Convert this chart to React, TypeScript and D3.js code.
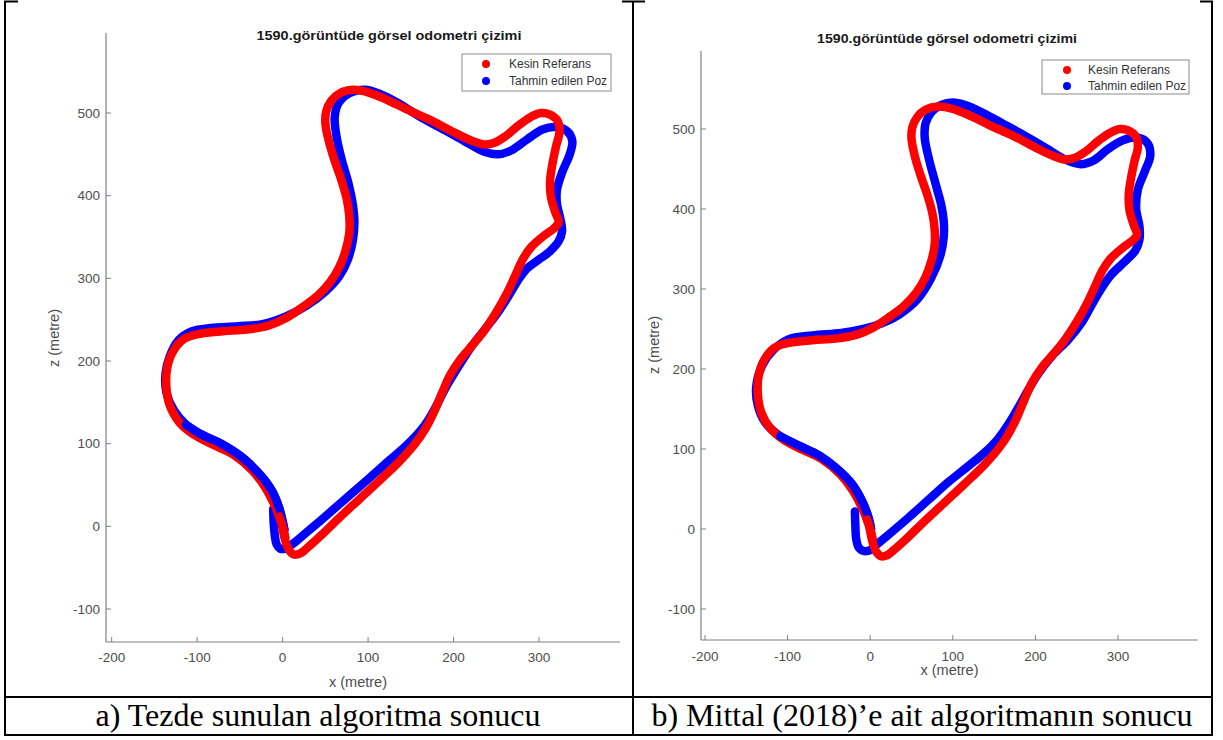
import React, { useEffect, useRef } from "react";
import * as d3 from "d3";

type Pt = [number, number];

// Ground truth trajectory (x, z in metres) – shared by both panels
const kesinReferans: Pt[] = [
  [-2, 9], [0, -3], [3, -17], [7, -28], [13, -34], [20, -33], [30, -25], [45, -11], [65, 9], [90, 33],
  [115, 57], [138, 80], [155, 100], [167, 118], [177, 138], [186, 160], [196, 183], [208, 202], [222, 219],
  [236, 237], [250, 259], [262, 281], [272, 303], [281, 323], [291, 338], [305, 351], [318, 361], [323, 368],
  [319, 380], [314, 398], [313, 418], [316, 440], [320, 460], [324, 477], [322, 490], [313, 498], [302, 500],
  [290, 495], [276, 485], [261, 472], [248, 464], [236, 462], [220, 467], [198, 478], [172, 492], [146, 504],
  [122, 516], [100, 525], [82, 528], [67, 524], [57, 515], [51, 502], [50, 488], [54, 466], [61, 442],
  [69, 418], [75, 396], [78, 375], [78, 355], [74, 335], [67, 315], [56, 296], [41, 279], [23, 265], [4, 252],
  [-16, 243], [-42, 238], [-70, 236], [-97, 233], [-115, 227], [-128, 212], [-135, 192], [-136, 168],
  [-132, 146], [-121, 126], [-104, 111], [-82, 99], [-58, 87], [-36, 68], [-21, 48], [-11, 29], [-4, 12],
  [0, 0], [3, -14],
];

// Estimated pose – panel a (thesis algorithm)
const tahminA: Pt[] = [
  [-11, 21], [-10.5, 5], [-9, -12], [-7, -22], [-3, -27], [3, -27], [12, -21], [25, -10], [40, 3], [70, 30],
  [100, 57], [125, 80], [145, 98], [160, 114], [170, 128], [180, 146], [191, 168], [205, 192], [222, 219],
  [238, 240], [252, 259], [264, 278], [275, 297], [286, 312], [299, 322], [313, 333], [323, 345], [327, 357],
  [325, 372], [321, 390], [321, 407], [327, 428], [336, 450], [339, 466], [333, 478], [319, 483], [304, 480],
  [286, 468], [268, 455], [252, 450], [236, 453], [216, 464], [190, 479], [160, 496], [135, 512], [114, 523],
  [96, 528], [78, 524], [66, 513], [61, 496], [63, 472], [69, 444], [77, 415], [82, 390], [84, 368], [82, 345],
  [76, 322], [66, 302], [50, 284], [28, 267], [4, 254], [-22, 245], [-52, 242], [-84, 240], [-106, 236],
  [-122, 225], [-132, 206], [-137, 185], [-136, 162], [-127, 140], [-113, 123], [-95, 111], [-72, 100],
  [-48, 84], [-26, 62], [-12, 42], [-4, 22], [0, 6], [2, -4],
];

// Estimated pose – panel b (Mittal 2018)
const tahminB: Pt[] = [
  [-18.5, 22], [-18, 5], [-17, -12], [-14, -23], [-8, -27.5], [0, -26.5], [6, -21], [20, -9], [45, 13],
  [70, 36], [95, 59], [118, 78], [138, 95], [155, 113], [168, 132], [180, 153], [192, 175], [204, 195],
  [220, 216], [240, 237], [256, 258], [266, 276], [277, 296], [291, 317], [308, 334], [321, 348], [326, 362],
  [326, 378], [322, 400], [324, 424], [332, 446], [339, 466], [336, 482], [324, 489], [306, 486], [288, 475],
  [271, 461], [255, 456], [238, 461], [210, 478], [185, 493], [160, 507], [135, 521], [115, 530], [100, 533],
  [86, 530], [74, 521], [67, 507], [66, 489], [71, 463], [79, 432], [86, 405], [89, 385], [89, 365], [85, 342],
  [74, 314], [57, 287], [35, 268], [14, 257], [-8, 250], [-35, 245], [-70, 242], [-99, 237], [-117, 224],
  [-131, 204], [-138, 178], [-136, 154], [-127, 133], [-109, 116], [-86, 104], [-62, 92], [-40, 75],
  [-22, 56], [-9, 33], [-2, 14], [1, 0],
];

const xTicks = [-200, -100, 0, 100, 200, 300];
const zTicks = [-100, 0, 100, 200, 300, 400, 500];
const titleText = "1590.görüntüde görsel odometri çizimi";
const legendLabels = ["Kesin Referans", "Tahmin edilen Poz"];
const xLabelText = "x (metre)";
const zLabelText = "z (metre)";
const captions = ["a) Tezde sunulan algoritma sonucu", "b) Mittal (2018)’e ait algoritmanın sonucu"];
const seriesColors = ["#ff0000", "#0000ff"];

const panels = [
  {
    est: tahminA,
    xRange: [111.7, 539], zRange: [609, 113],
    axisL: 106, axisR: 620, axisT: 33, axisB: 642,
    titleX: 389, titleY: 40, titleW: 265,
    xlabelX: 358, xlabelY: 686.5,
    zlabelX: 53.5, zlabelY: 338,
    xTickY: 662,
    legend: { x: 462, y: 54, w: 149, h: 37, mx: 24, m1: 10, m2: 27, tx: 47 },
    captionX: 318,
  },
  {
    est: tahminB,
    xRange: [705, 1118], zRange: [609, 129],
    axisL: 701, axisR: 1198, axisT: 51, axisB: 640,
    titleX: 947, titleY: 43, titleW: 260,
    xlabelX: 949.5, xlabelY: 675,
    zlabelX: 653.5, zlabelY: 345,
    xTickY: 660.5,
    legend: { x: 1042, y: 60, w: 147, h: 34, mx: 25, m1: 10, m2: 26, tx: 46 },
    captionX: 922,
  },
];

const SANS = "'Liberation Sans', Arial, Helvetica, sans-serif";
const SERIF = "'Liberation Serif', 'Times New Roman', serif";

export default function App() {
  const ref = useRef<SVGSVGElement | null>(null);

  useEffect(() => {
    const svg = d3.select(ref.current);
    svg.selectAll("*").remove();
    svg.append("rect").attr("width", 1223).attr("height", 740).attr("fill", "#fff");

    panels.forEach((p, pi) => {
      const xs = d3.scaleLinear().domain([-200, 300]).range(p.xRange);
      const zs = d3.scaleLinear().domain([-100, 500]).range(p.zRange);
      const g = svg.append("g");

      // axes
      g.append("line").attr("x1", p.axisL).attr("x2", p.axisL).attr("y1", p.axisT).attr("y2", p.axisB)
        .attr("stroke", "#808080").attr("stroke-width", 1.2);
      g.append("line").attr("x1", p.axisL).attr("x2", p.axisR).attr("y1", p.axisB).attr("y2", p.axisB)
        .attr("stroke", "#808080").attr("stroke-width", 1.2);

      xTicks.forEach((t) => {
        g.append("line").attr("x1", xs(t)).attr("x2", xs(t)).attr("y1", p.axisB).attr("y2", p.axisB - 5)
          .attr("stroke", "#808080").attr("stroke-width", 1);
        g.append("text").attr("x", xs(t)).attr("y", p.xTickY).attr("text-anchor", "middle")
          .attr("font-family", SANS).attr("font-size", 13.5).attr("fill", "#4d4d4d").text(String(t));
      });
      zTicks.forEach((t) => {
        g.append("line").attr("x1", p.axisL).attr("x2", p.axisL + 5).attr("y1", zs(t)).attr("y2", zs(t))
          .attr("stroke", "#808080").attr("stroke-width", 1);
        g.append("text").attr("x", p.axisL - 6).attr("y", zs(t)).attr("dy", "0.35em").attr("text-anchor", "end")
          .attr("font-family", SANS).attr("font-size", 13.5).attr("fill", "#4d4d4d").text(String(t));
      });

      g.append("text").attr("x", p.xlabelX).attr("y", p.xlabelY).attr("text-anchor", "middle")
        .attr("font-family", SANS).attr("font-size", 14.5).attr("fill", "#4d4d4d").text(xLabelText);
      g.append("text").attr("transform", `translate(${p.zlabelX},${p.zlabelY}) rotate(-90)`)
        .attr("dy", "0.35em").attr("text-anchor", "middle")
        .attr("font-family", SANS).attr("font-size", 14.5).attr("fill", "#4d4d4d").text(zLabelText);

      g.append("text").attr("x", p.titleX).attr("y", p.titleY).attr("text-anchor", "middle")
        .attr("font-family", SANS).attr("font-size", 13.5).attr("font-weight", "bold").attr("fill", "#1a1a1a")
        .attr("textLength", p.titleW).attr("lengthAdjust", "spacingAndGlyphs")
        .text(titleText);

      // trajectories
      const line = d3.line<Pt>().x((d) => xs(d[0])).y((d) => zs(d[1])).curve(d3.curveCatmullRom.alpha(0.5));
      const tg = g.append("g").attr("fill", "none").attr("stroke-width", 8.5)
        .attr("stroke-linecap", "round").attr("stroke-linejoin", "round");
      const draw = (pts: Pt[], color: string) => {
        tg.append("path").attr("d", line(pts) as string).attr("stroke", color);
      };
      // the estimate's final arc lies above the reference, as in the original animation
      const est = p.est;
      const half = Math.floor(est.length / 2);
      let tailStart = est.findIndex((d, i) => i > half && d[0] < -100 && d[1] < 128);
      if (tailStart < 0) tailStart = est.length - 10;
      const refTail = kesinReferans.findIndex((d, i) => i > kesinReferans.length / 2 && d[0] > -8 && d[1] < 20);

      draw(est, seriesColors[1]);
      draw(kesinReferans, seriesColors[0]);
      draw(est.slice(tailStart), seriesColors[1]);
      draw(kesinReferans.slice(Math.max(0, refTail)), seriesColors[0]);

      // legend
      const lg = p.legend;
      g.append("rect").attr("x", lg.x).attr("y", lg.y).attr("width", lg.w).attr("height", lg.h)
        .attr("fill", "#fff").attr("stroke", "#8a8a8a").attr("stroke-width", 1);
      [lg.m1, lg.m2].forEach((my, i) => {
        g.append("circle").attr("cx", lg.x + lg.mx).attr("cy", lg.y + my).attr("r", 4).attr("fill", seriesColors[i]);
        g.append("text").attr("x", lg.x + lg.tx).attr("y", lg.y + my + 4).attr("font-family", SANS)
          .attr("font-size", 12).attr("fill", "#333").text(legendLabels[i]);
      });

      // caption
      svg.append("text").attr("x", p.captionX).attr("y", 726).attr("text-anchor", "middle")
        .attr("font-family", SERIF).attr("font-size", 32).attr("fill", "#000").text(captions[pi]);
    });

    // table borders
    const tb = svg.append("g").attr("stroke", "#000").attr("stroke-width", 2);
    [5, 633, 1212].forEach((x) => tb.append("line").attr("x1", x).attr("x2", x).attr("y1", 1).attr("y2", 736));
    [697, 735].forEach((y) => tb.append("line").attr("x1", 4).attr("x2", 1213).attr("y1", y).attr("y2", y));
    [[4, 18], [622, 645], [1200, 1213]].forEach(([a, b]) =>
      tb.append("line").attr("x1", a).attr("x2", b).attr("y1", 1.5).attr("y2", 1.5));
  }, []);

  return (
    <div style={{ position: "absolute", left: 0, top: 0 }}>
      <svg ref={ref} width={1223} height={740} style={{ display: "block" }} />
    </div>
  );
}
